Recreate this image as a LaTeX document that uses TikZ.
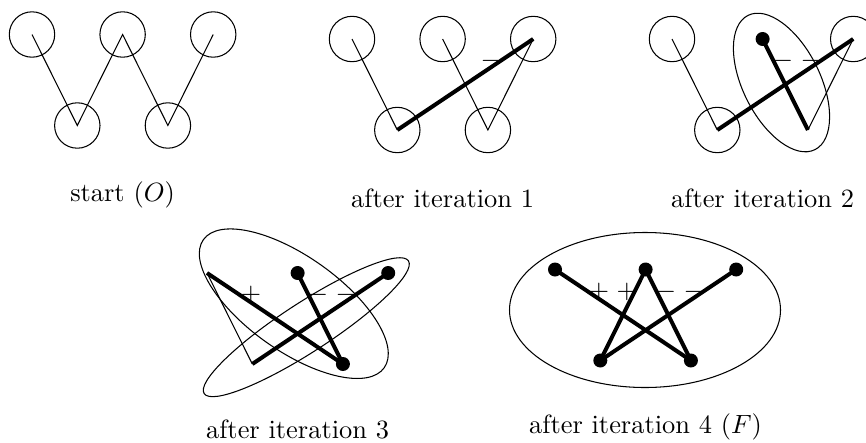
\documentclass[tikz,border=0pt]{standalone}
\begin{document}
\begin{tikzpicture}[x=1pt,y=-1pt,
  thinln/.style={line width=1.05pt},
  thickln/.style={line width=4pt},
  ring/.style={circle, draw, line width=1.05pt, minimum size=45.4pt, inner sep=0pt, outer sep=0pt},
  dotnode/.style={circle, fill=black, minimum size=14pt, inner sep=0pt, outer sep=0pt},
  signtext/.style={inner sep=0pt, scale=2.64, font=\fontsize{10}{12}\selectfont},
  captext/.style={inner sep=0pt, anchor=base, scale=2.64, font=\fontsize{10}{12}\selectfont},
  clus/.style={line width=1.05pt}
]
\useasboundingbox (0,0) rectangle (866,442);
\clip (0,0) rectangle (866,442);

% ---------- Panel 1: start (O)
\node[ring] (a1) at (32,34.5) {};
\node[ring] (a2) at (77.3,125.5) {};
\node[ring] (a3) at (122.6,34.5) {};
\node[ring] (a4) at (167.9,125.5) {};
\node[ring] (a5) at (213.2,34.5) {};
\draw[thinln] (a1.center) -- (a2.center) -- (a3.center) -- (a4.center) -- (a5.center);
\node[captext] (capa) at (122.6,201) {start $(O)$};

% ---------- Panel 2: after iteration 1
\node[ring] (b1) at (352,39) {};
\node[ring] (b2) at (397.3,130) {};
\node[ring] (b3) at (442.6,39) {};
\node[ring] (b4) at (487.9,130) {};
\node[ring] (b5) at (533.2,39) {};
\node[signtext] (bs4) at (491,61) {$-$};
\draw[thinln] (b1.center) -- (b2.center);
\draw[thinln] (b3.center) -- (b4.center) -- (b5.center);
\draw[thickln] (b2.center) -- (b5.center);
\node[captext] (capb) at (442.6,207) {after iteration 1};

% ---------- Panel 3: after iteration 2
\node[ring] (c1) at (672,39) {};
\node[ring] (c2) at (717.3,130) {};
\coordinate (c3) at (762.6,39);
\coordinate (c4) at (807.9,130);
\node[ring] (c5) at (853.2,39) {};
\draw[clus, rotate around={-63.5:(781.5,82.5)}] (781.5,82.5) ellipse [x radius=75, y radius=38.6];
\node[signtext] (cs3) at (783,61) {$-$};
\node[signtext] (cs4) at (811,61) {$-$};
\draw[thinln] (c1.center) -- (c2.center);
\draw[thinln] (c4) -- (c5.center);
\draw[thickln] (c2.center) -- (c5.center);
\draw[thickln] (c3) -- (c4);
\node[dotnode] (c3d) at (c3) {};
\node[captext] (capc) at (762.6,207) {after iteration 2};

% ---------- Panel 4: after iteration 3
\coordinate (d1) at (207,273);
\coordinate (d2) at (252.3,364);
\coordinate (d3) at (297.6,273);
\coordinate (d4) at (342.9,364);
\coordinate (d5) at (388.2,273);
\draw[clus, rotate around={-35.3:(293.8,303.7)}] (293.8,303.7) ellipse [x radius=110.8, y radius=47.3];
\draw[clus, rotate around={33:(306.3,327.2)}] (306.3,327.2) ellipse [x radius=121.8, y radius=24.5];
\node[signtext] (ds1) at (251,295) {$+$};
\node[signtext] (ds3) at (318,295) {$-$};
\node[signtext] (ds4) at (346,295) {$-$};
\draw[thinln] (d1) -- (d2);
\draw[thickln] (d1) -- (d4);
\draw[thickln] (d3) -- (d4);
\draw[thickln] (d2) -- (d5);
\node[dotnode] (d3d) at (d3) {};
\node[dotnode] (d4d) at (d4) {};
\node[dotnode] (d5d) at (d5) {};
\node[captext] (capd) at (297.6,438) {after iteration 3};

% ---------- Panel 5: after iteration 4 (F)
\coordinate (e1) at (555,269.5);
\coordinate (e2) at (600.3,360.5);
\coordinate (e3) at (645.6,269.5);
\coordinate (e4) at (690.9,360.5);
\coordinate (e5) at (736.2,269.5);
\draw[clus] (645,310) ellipse [x radius=135.5, y radius=77.5];
\node[signtext] (es1) at (599,291.5) {$+$};
\node[signtext] (es2) at (627,291.5) {$+$};
\node[signtext] (es3) at (666,291.5) {$-$};
\node[signtext] (es4) at (694,291.5) {$-$};
\draw[thickln] (e1) -- (e4);
\draw[thickln] (e2) -- (e3) -- (e4);
\draw[thickln] (e2) -- (e5);
\node[dotnode] (e1d) at (e1) {};
\node[dotnode] (e2d) at (e2) {};
\node[dotnode] (e3d) at (e3) {};
\node[dotnode] (e4d) at (e4) {};
\node[dotnode] (e5d) at (e5) {};
\node[captext] (cape) at (645.6,433) {after iteration 4 $(F)$};
\end{tikzpicture}
\end{document}
